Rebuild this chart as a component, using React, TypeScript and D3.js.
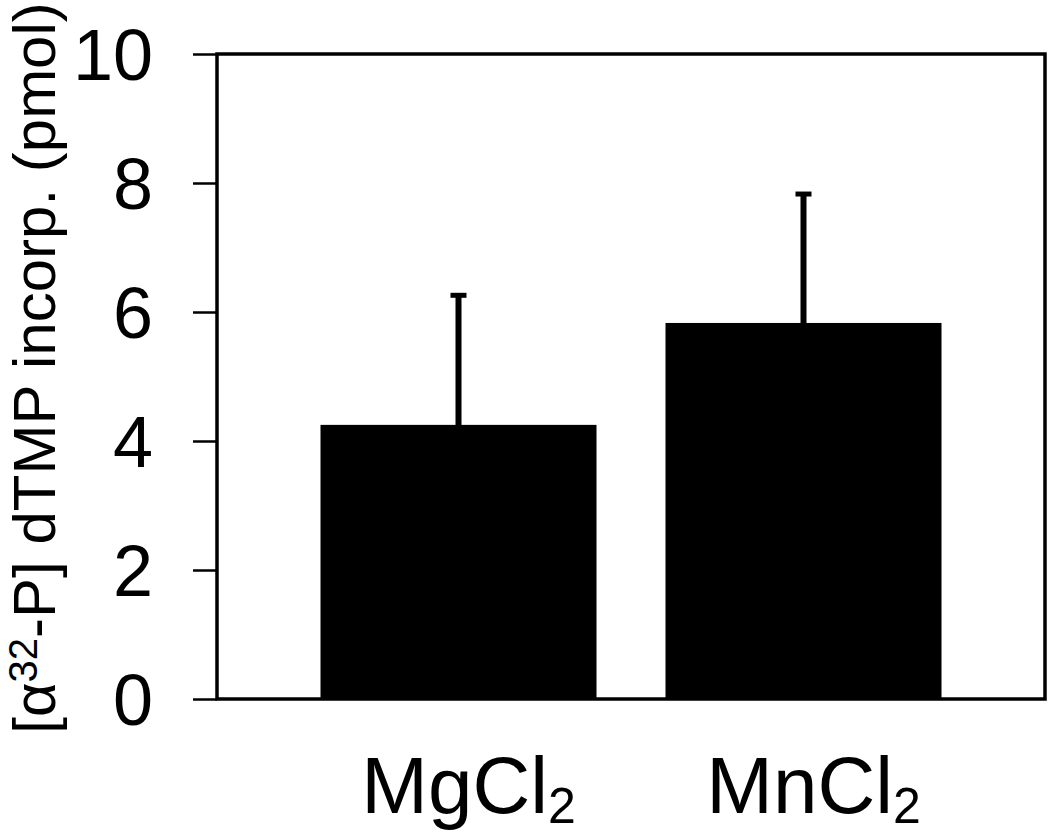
import React, { useEffect, useRef } from 'react';
import * as d3 from 'd3';

const categories = ['MgCl', 'MnCl'];
const subscripts = ['2', '2'];
const means = [4.25, 5.83];
const errors = [2.04, 2.03];
const yTicks = [0, 2, 4, 6, 8, 10];

const App = () => {
  const svgRef = useRef<SVGSVGElement>(null);

  useEffect(() => {
    const svg = d3.select(svgRef.current);
    svg.selectAll('*').remove();

    const width = 1050;
    const height = 835;
    const margin = { top: 54, right: 5, bottom: 136, left: 217 };
    const font = 'Liberation Sans, Arial, sans-serif';

    const x = d3
      .scaleBand()
      .domain(categories)
      .range([margin.left, width - margin.right])
      .paddingInner(0.2)
      .paddingOuter(0.3);

    const y = d3
      .scaleLinear()
      .domain([0, 10])
      .range([height - margin.bottom, margin.top]);

    // bars
    svg.selectAll('.bar')
      .data(categories)
      .enter()
      .append('rect')
      .attr('x', d => x(d))
      .attr('y', (d, i) => y(means[i]))
      .attr('width', x.bandwidth())
      .attr('height', (d, i) => y(0) - y(means[i]))
      .attr('fill', '#000');

    // error bars (upper only)
    const cx = (d: string) => x(d) + x.bandwidth() / 2;
    svg.selectAll('.err')
      .data(categories)
      .enter()
      .append('line')
      .attr('x1', cx)
      .attr('x2', cx)
      .attr('y1', (d, i) => y(means[i]))
      .attr('y2', (d, i) => y(means[i] + errors[i]))
      .attr('stroke', '#000')
      .attr('stroke-width', 6);
    svg.selectAll('.cap')
      .data(categories)
      .enter()
      .append('line')
      .attr('x1', d => cx(d) - 8)
      .attr('x2', d => cx(d) + 8)
      .attr('y1', (d, i) => y(means[i] + errors[i]) + 2)
      .attr('y2', (d, i) => y(means[i] + errors[i]) + 2)
      .attr('stroke', '#000')
      .attr('stroke-width', 5);

    // frame
    svg.append('rect')
      .attr('x', margin.left)
      .attr('y', margin.top)
      .attr('width', width - margin.right - margin.left)
      .attr('height', height - margin.bottom - margin.top)
      .attr('fill', 'none')
      .attr('stroke', '#000')
      .attr('stroke-width', 3.5);

    // y axis
    const yAxis = svg.append('g')
      .attr('transform', `translate(${margin.left},0)`)
      .call(d3.axisLeft(y).tickValues(yTicks).tickSize(24).tickPadding(40).tickFormat(d3.format('d')));
    yAxis.select('.domain').remove();
    yAxis.selectAll('line').attr('stroke-width', 2.5);
    yAxis.selectAll('text')
      .style('font-family', font)
      .attr('font-size', 72)
      .attr('dy', '0.36em')
      .attr('fill', '#000');

    // x labels with subscripts
    const xl = svg.selectAll('.xlab')
      .data(categories)
      .enter()
      .append('text')
      .attr('x', d => cx(d) + 10)
      .attr('y', 813)
      .attr('text-anchor', 'middle')
      .style('font-family', font)
      .attr('font-size', 80)
      .attr('fill', '#000');
    xl.append('tspan').text(d => d);
    xl.append('tspan')
      .attr('font-size', 50)
      .attr('dy', 10)
      .text((d, i) => subscripts[i]);

    // y label
    const yl = svg.append('text')
      .attr('transform', `translate(55,${368}) rotate(-90)`)
      .attr('text-anchor', 'middle')
      .style('font-family', font)
      .attr('font-size', 60)
      .attr('fill', '#000');
    yl.append('tspan').text('[α');
    yl.append('tspan').attr('font-size', 40).attr('dy', -18).text('32');
    yl.append('tspan').attr('dy', 18).text('-P] dTMP incorp. (pmol)');
  }, []);

  return (
    <svg
      ref={svgRef}
      width={1050}
      height={835}
      style={{ position: 'absolute', left: 0, top: 0, background: '#fff' }}
    />
  );
};

export default App;
